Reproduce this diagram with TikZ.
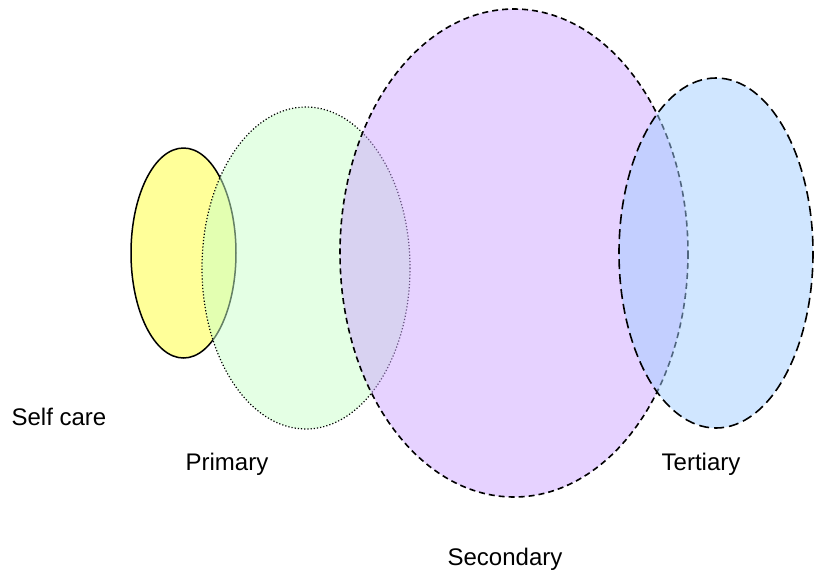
\documentclass[tikz,border=0pt]{standalone}
\usepackage{fontspec}
\setmainfont{Liberation Sans}
\definecolor{cyel}{RGB}{255,255,153}
\definecolor{cgrn}{RGB}{201,255,201}
\definecolor{cpur}{RGB}{205,165,255}
\definecolor{cblu}{RGB}{161,205,255}
\tikzset{
  lbl/.style={font=\fontsize{24}{28}\selectfont, inner sep=0pt},
  yell/.style={draw=black, line width=1.5pt, fill=cyel},
  grn/.style={draw=black, line width=1.2pt, dotted, fill=cgrn, fill opacity=0.5, draw opacity=1},
  pur/.style={draw=black, line width=1.6pt, dash pattern=on 6pt off 4pt, fill=cpur, fill opacity=0.5, draw opacity=1},
  blu/.style={draw=black, line width=1.6pt, dash pattern=on 10pt off 5pt, fill=cblu, fill opacity=0.5, draw opacity=1}
}
\begin{document}
\begin{tikzpicture}[x=1pt,y=-1pt]
\useasboundingbox (0,0) rectangle (823,574);
\path[yell] (183.5,253) ellipse [x radius=52.5, y radius=105];
\path[grn] (306,268) ellipse [x radius=104, y radius=161];
\path[pur] (514,253) ellipse [x radius=174, y radius=244];
\path[blu] (716,253) ellipse [x radius=97, y radius=175];
\node[lbl] (selfcare) at (59,417) {Self care};
\node[lbl] (primary) at (227,464) {Primary};
\node[lbl] (secondary) at (505,559) {Secondary};
\node[lbl] (tertiary) at (701,464) {Tertiary};
\end{tikzpicture}
\end{document}
